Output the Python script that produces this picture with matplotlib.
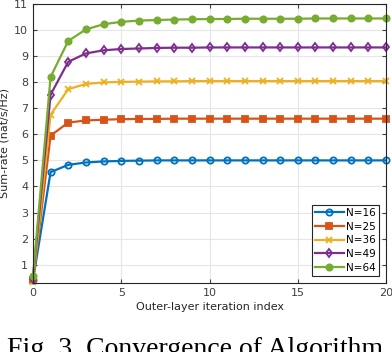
import matplotlib.pyplot as plt
import numpy as np

iters = np.arange(0, 21)
n_labels = ['N=16', 'N=25', 'N=36', 'N=49', 'N=64']
rate_n16 = [0.40, 4.55, 4.83, 4.92, 4.96, 4.98, 4.99, 5.00, 5.00, 5.00, 5.00,
            5.00, 5.00, 5.00, 5.00, 5.00, 5.00, 5.00, 5.00, 5.00, 5.00]
rate_n25 = [0.40, 5.95, 6.45, 6.53, 6.56, 6.58, 6.59, 6.59, 6.60, 6.60, 6.60,
            6.60, 6.60, 6.60, 6.60, 6.60, 6.60, 6.60, 6.60, 6.60, 6.60]
rate_n36 = [0.35, 6.75, 7.73, 7.93, 7.99, 8.01, 8.02, 8.03, 8.03, 8.04, 8.04,
            8.04, 8.04, 8.04, 8.04, 8.04, 8.04, 8.04, 8.04, 8.04, 8.04]
rate_n49 = [0.45, 7.52, 8.78, 9.10, 9.22, 9.27, 9.29, 9.31, 9.32, 9.32, 9.33,
            9.33, 9.33, 9.33, 9.33, 9.33, 9.33, 9.33, 9.33, 9.33, 9.33]
rate_n64 = [0.55, 8.20, 9.58, 10.02, 10.22, 10.31, 10.36, 10.38, 10.40, 10.41, 10.42,
            10.42, 10.43, 10.43, 10.43, 10.43, 10.44, 10.44, 10.44, 10.44, 10.44]

colors = ['#0072BD', '#D95319', '#EDB120', '#7E2F8E', '#77AC30']
markers = ['o', 's', 'x', 'd', 'o']
faces = ['none', '#D95319', '#EDB120', 'none', '#77AC30']

plt.rcParams['font.family'] = 'DejaVu Sans'
fig = plt.figure(figsize=(3.92, 3.52), dpi=100)
ax = fig.add_axes([0.084, 0.196, 0.901, 0.793])

series = [rate_n16, rate_n25, rate_n36, rate_n49, rate_n64]
for vals, lab, c, m, fc in zip(series, n_labels, colors, markers, faces):
    ax.plot(iters, vals, color=c, marker=m, markerfacecolor=fc, markeredgecolor=c,
            markersize=4.5, markeredgewidth=1.3, linewidth=1.6, label=lab, clip_on=False)

ax.set_xlim(0, 20)
ax.set_ylim(0.3, 11)
ax.set_xticks([0, 5, 10, 15, 20])
ax.set_yticks(range(1, 12))
ax.grid(True, color='#e6e6e6', linewidth=0.8)
ax.set_axisbelow(True)
ax.tick_params(labelsize=8, colors='#404040', direction='in', length=3, top=True, right=True)
for s in ax.spines.values():
    s.set_color('#262626')
    s.set_linewidth(0.8)
ax.set_xlabel('Outer-layer iteration index', fontsize=8, color='#262626', labelpad=3)
ax.set_ylabel('Sum-rate (nat/s/Hz)', fontsize=8, color='#262626', labelpad=3)

leg = ax.legend(loc='lower right', fontsize=7.5, fancybox=False, edgecolor='#262626',
                framealpha=1, handlelength=2.8, handletextpad=0.2, borderpad=0.3,
                labelspacing=0.35, borderaxespad=0.7)
leg.get_frame().set_linewidth(0.8)

fig.text(0.018, -0.012, 'Fig. 3. Convergence of Algorithm', fontsize=20,
         family='Liberation Serif', va='baseline', ha='left')

fig.savefig('out.png', dpi=100)
